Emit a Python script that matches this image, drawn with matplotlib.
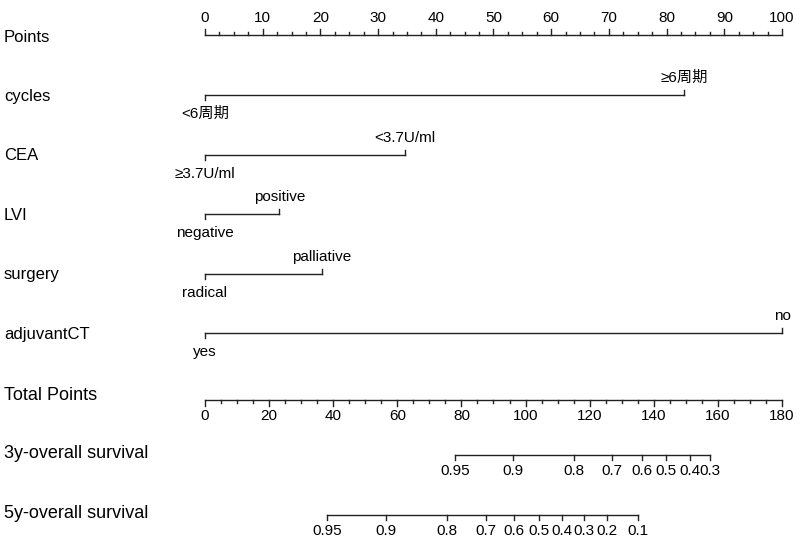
import numpy as np
import matplotlib
matplotlib.use('Agg')
import matplotlib.pyplot as plt

plt.rcParams['font.family'] = ['Liberation Sans', 'Noto Sans CJK SC', 'DejaVu Sans']

# 資料：各變數的分數位置
points_ticks = list(range(0, 101, 10))
total_ticks = list(range(0, 181, 20))

var_names = ['cycles', 'CEA', 'LVI', 'surgery', 'adjuvantCT']
var_levels = [['<6周期', '≥6周期'],
              ['≥3.7U/ml', '<3.7U/ml'],
              ['negative', 'positive'],
              ['radical', 'palliative'],
              ['yes', 'no']]
var_points = [[0, 83.0], [0, 34.6], [0, 12.9], [0, 20.2], [0, 100]]

surv3_labels = ['0.95', '0.9', '0.8', '0.7', '0.6', '0.5', '0.4', '0.3']
surv3_total = [78.0, 96.2, 115.1, 127.0, 136.2, 143.7, 151.3, 157.5]

surv5_labels = ['0.95', '0.9', '0.8', '0.7', '0.6', '0.5', '0.4', '0.3', '0.2', '0.1']
surv5_total = [38.0, 56.5, 75.6, 87.6, 96.5, 104.3, 111.4, 118.3, 125.5, 135.0]

# 版面（像素座標）
W, H = 800, 545
x0_px, x100_px = 205, 782
ppp = (x100_px - x0_px) / 100.0
lc = '#222222'
fs = 11

fig = plt.figure(figsize=(W / 100, H / 100), dpi=100)
ax = fig.add_axes([0, 0, 1, 1])
ax.set_xlim(-x0_px / ppp, (W - x0_px) / ppp)
ax.set_ylim(H, 0)
ax.axis('off')


def tp2pts(v):
    return np.asarray(v, dtype=float) * 100.0 / 180.0


def row_label(y, text, size=fs + 1):
    ax.text(-x0_px / ppp + 4 / ppp, y, text, fontsize=size, ha='left', va='center')


# Points
y = 35
row_label(y + 3, 'Points')
ax.plot([0, 100], [y, y], color=lc, lw=1)
for v in np.arange(0, 100.01, 2.5):
    tl = 6 if v % 10 == 0 else 3
    ax.plot([v, v], [y, y - tl], color=lc, lw=1)
for v in points_ticks:
    ax.text(v, y - 10, str(v), fontsize=fs, ha='center', va='bottom')

# 各變數
row_y = [95, 155, 214, 274, 333]
for name, levels, pts, yy in zip(var_names, var_levels, var_points, row_y):
    row_label(yy + 1, name)
    ax.plot([pts[0], pts[1]], [yy, yy], color=lc, lw=1)
    ax.plot([pts[0], pts[0]], [yy, yy + 5], color=lc, lw=1)
    ax.plot([pts[1], pts[1]], [yy, yy - 5], color=lc, lw=1)
    ax.text(pts[0], yy + 12, levels[0], fontsize=fs, ha='center', va='top')
    ax.text(pts[1], yy - 10, levels[1], fontsize=fs, ha='center', va='bottom')

# Total Points
y = 400
row_label(y - 5, 'Total Points', fs + 2)
ax.plot([0, 100], [y, y], color=lc, lw=1)
for v in np.arange(0, 180.01, 5):
    tl = 6 if v % 20 == 0 else 3
    p = tp2pts(v)
    ax.plot([p, p], [y, y + tl], color=lc, lw=1)
for v in total_ticks:
    ax.text(tp2pts(v), y + 9, str(v), fontsize=fs, ha='center', va='top')

# 生存率
for yy, labels, tots, name in [(455, surv3_labels, surv3_total, '3y-overall survival'),
                               (515, surv5_labels, surv5_total, '5y-overall survival')]:
    row_label(yy - 2, name, fs + 2)
    p = tp2pts(tots)
    ax.plot([p[0], p[-1]], [yy, yy], color=lc, lw=1)
    for pv, lab in zip(p, labels):
        ax.plot([pv, pv], [yy, yy + 5], color=lc, lw=1)
        ax.text(pv, yy + 9, lab, fontsize=fs, ha='center', va='top')

fig.savefig('out.png', dpi=100, facecolor='white')
